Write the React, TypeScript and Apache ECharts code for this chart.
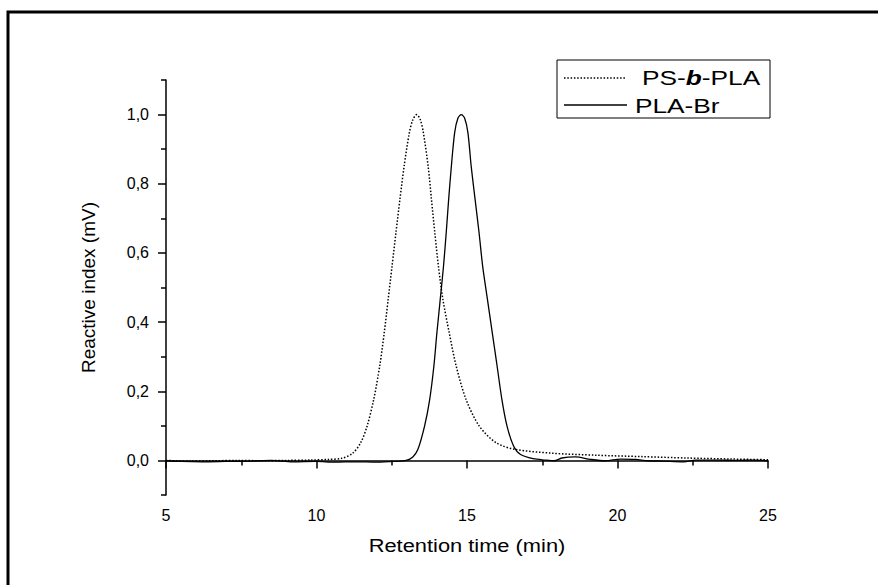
import React, { useEffect, useRef } from 'react';
import * as echarts from 'echarts';

// Retention time (min) and detector signal (mV)
const psbplaTime = [5, 5.8, 6.6, 7.4, 8.2, 9.0, 9.8, 10.4, 10.84, 11.19, 11.46, 11.68, 11.9, 12.1, 12.25, 12.38, 12.51, 12.64, 12.77, 12.91, 13.08, 13.2, 13.33, 13.45, 13.55, 13.71, 13.82, 13.93, 14.05, 14.2, 14.41, 14.64, 14.97, 15.41, 15.97, 16.6, 17.8, 19.3, 20.8, 22.3, 23.8, 25];
const psbplaSignal = [0.0, -0.002, -0.001, 0.0, -0.001, 0.0, 0.001, 0.003, 0.006, 0.02, 0.05, 0.099, 0.176, 0.273, 0.369, 0.465, 0.562, 0.659, 0.754, 0.85, 0.945, 0.985, 1.0, 0.985, 0.948, 0.85, 0.754, 0.659, 0.562, 0.465, 0.369, 0.273, 0.176, 0.099, 0.051, 0.032, 0.021, 0.015, 0.011, 0.007, 0.004, 0.002];

const plabrTime = [5, 5.5, 6.2, 7.0, 7.8, 8.5, 9.2, 10.0, 10.6, 11.3, 12.0, 12.6, 12.98, 13.2, 13.37, 13.59, 13.76, 13.9, 14.0, 14.11, 14.22, 14.31, 14.39, 14.48, 14.59, 14.7, 14.81, 14.92, 15.03, 15.14, 15.27, 15.4, 15.52, 15.68, 15.84, 16.0, 16.16, 16.33, 16.55, 16.78, 17.2, 17.6, 17.9, 18.15, 18.6, 19.1, 19.6, 20.1, 20.6, 21.0, 21.5, 22.2, 22.6, 23.3, 24.0, 24.5, 25];
const plabrSignal = [-0.001, -0.003, -0.004, -0.003, -0.002, 0.0, -0.004, -0.003, -0.005, -0.004, -0.005, -0.003, 0.0, 0.01, 0.032, 0.099, 0.176, 0.273, 0.369, 0.465, 0.562, 0.659, 0.754, 0.85, 0.948, 0.99, 1.0, 0.99, 0.948, 0.85, 0.754, 0.659, 0.562, 0.465, 0.369, 0.273, 0.176, 0.099, 0.041, 0.017, 0.005, 0.001, -0.001, 0.007, 0.01, 0.003, -0.001, 0.004, 0.003, -0.001, -0.002, -0.004, 0.001, 0.001, 0.0, 0.001, -0.001];

const seriesNames = ['PS-b-PLA', 'PLA-Br'];
const yLabelTicks = [0, 0.2, 0.4, 0.6, 0.8, 1.0];
const yMinorTicks = [-0.1, 0.1, 0.3, 0.5, 0.7, 0.9, 1.1];
const xTitle = 'Retention time (min)';
const yTitle = 'Reactive index (mV)';

const FONT = '"Liberation Sans", Arial, Helvetica, sans-serif';

export default function App() {
  const ref = useRef<HTMLDivElement>(null);

  useEffect(() => {
    const chart = echarts.init(ref.current!, null, { renderer: 'svg' });
    const axisColor = '#000';
    chart.setOption({
      animation: false,
      backgroundColor: '#fff',
      grid: { left: 166, right: 110, top: 80, bottom: 90 },
      xAxis: {
        type: 'value',
        min: 5,
        max: 25,
        interval: 5,
        axisLine: { lineStyle: { color: axisColor, width: 1.5 } },
        axisTick: { length: 8, lineStyle: { color: axisColor, width: 1.5 } },
        minorTick: { show: true, splitNumber: 2, length: 5, lineStyle: { color: axisColor, width: 1.5 } },
        splitLine: { show: false },
        minorSplitLine: { show: false },
        axisLabel: { color: '#000', fontSize: 16, fontFamily: FONT, margin: 12 },
      },
      yAxis: [
        {
          type: 'value',
          min: -0.1,
          max: 1.1,
          axisLine: { show: true, lineStyle: { color: axisColor, width: 1.5 } },
          axisTick: { show: true, customValues: yLabelTicks, length: 8, lineStyle: { color: axisColor, width: 1.5 } },
          splitLine: { show: false },
          axisLabel: {
            customValues: yLabelTicks,
            color: '#000',
            fontSize: 16,
            fontFamily: FONT,
            margin: 17,
            formatter: (v: number) => v.toFixed(1).replace('.', ','),
          },
          name: yTitle,
          nameLocation: 'middle',
          nameRotate: 90,
          nameGap: 68,
          nameTextStyle: { color: '#000', fontSize: 19, fontFamily: FONT },
        },
        {
          type: 'value',
          min: -0.1,
          max: 1.1,
          position: 'left',
          axisLine: { show: false },
          axisTick: { show: true, customValues: yMinorTicks, length: 5, lineStyle: { color: axisColor, width: 1.5 } },
          axisLabel: { show: false },
          splitLine: { show: false },
        },
      ],
      graphic: [
        {
          type: 'rect',
          z: 100,
          shape: { x: 8, y: 12, width: 900, height: 620 },
          style: { fill: 'none', stroke: '#000', lineWidth: 3 },
        },
        {
          type: 'text',
          x: 467,
          y: 545,
          scaleX: 1.15,
          style: { text: xTitle, font: `19px ${FONT}`, fill: '#000', textAlign: 'center', textVerticalAlign: 'middle' },
        },
        {
          type: 'rect',
          shape: { x: 557, y: 60, width: 213, height: 58 },
          style: { fill: '#fff', stroke: '#000', lineWidth: 1 },
          z: 50,
        },
        {
          type: 'line',
          z: 51,
          shape: { x1: 564, y1: 78, x2: 626, y2: 78 },
          style: { stroke: '#000', lineWidth: 1.5, lineDash: [1.5, 1.8] },
        },
        {
          type: 'line',
          z: 51,
          shape: { x1: 564, y1: 105, x2: 627, y2: 105 },
          style: { stroke: '#000', lineWidth: 1.3 },
        },
        {
          type: 'text',
          z: 51,
          x: 642,
          y: 77,
          scaleX: 1.25,
          style: {
            text: '{n|PS-}{bi|b}{n|-PLA}',
            fill: '#000',
            textVerticalAlign: 'middle',
            rich: {
              n: { fontSize: 21, fontFamily: FONT, fill: '#000' },
              bi: { fontSize: 21, fontFamily: FONT, fontWeight: 'bold', fontStyle: 'italic', fill: '#000' },
            },
          },
        },
        {
          type: 'text',
          z: 51,
          x: 635,
          y: 105,
          scaleX: 1.25,
          style: { text: seriesNames[1], font: `21px ${FONT}`, fill: '#000', textVerticalAlign: 'middle' },
        },
      ],
      series: [
        {
          name: seriesNames[0],
          type: 'line',
          data: psbplaTime.map((t, i) => [t, psbplaSignal[i]]),
          showSymbol: false,
          symbol: 'none',
          smooth: 0.3,
          lineStyle: { color: '#000', width: 1.5, type: [1.5, 1.8] },
          z: 3,
        },
        {
          name: seriesNames[1],
          type: 'line',
          data: plabrTime.map((t, i) => [t, plabrSignal[i]]),
          showSymbol: false,
          symbol: 'none',
          smooth: 0.3,
          lineStyle: { color: '#000', width: 1.3 },
          z: 4,
        },
      ],
    });
    return () => chart.dispose();
  }, []);

  return <div ref={ref} style={{ position: 'absolute', left: 0, top: 0, width: 878, height: 585 }} />;
}
